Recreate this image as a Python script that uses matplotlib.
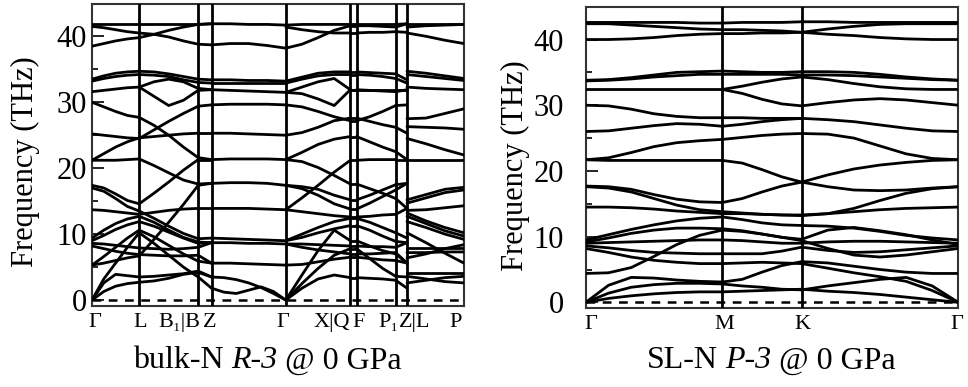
import numpy as np
import matplotlib
matplotlib.use('Agg')
import matplotlib.pyplot as plt
from matplotlib.ticker import MultipleLocator
from matplotlib.offsetbox import TextArea, HPacker, AnchoredOffsetbox

plt.rcParams['font.family'] = ['Liberation Serif', 'DejaVu Serif']

# ---- bulk-N R-3: k-path distances of the high-symmetry points ----
bulk_kpts = [0, 47.3, 106.3, 119.7, 194.0, 258.6, 264.8, 304.0, 315.3, 372.3]
bulk_label_pos = [2.7, 48, 87.5, 117.5, 191, 239.5, 266.5, 297, 323, 364]
bulk_labels = ['Γ', 'L', 'B₁|B', 'Z', 'Γ', 'X|Q', 'F', 'P₁', 'Z|L', 'P']

# frequencies (THz) sampled evenly along each path segment
gamma_L = [
    [41.8, 41.8, 41.8, 41.8, 41.8],
    [41.5, 41.3, 41.0, 40.7, 40.5],
    [38.5, 38.9, 39.3, 39.6, 39.8],
    [33.5, 34.0, 34.4, 34.6, 34.7],
    [33.2, 33.6, 33.9, 34.1, 34.2],
    [31.6, 31.8, 32.0, 32.2, 32.3],
    [30.0, 29.3, 28.6, 28.0, 27.7],
    [25.2, 25.0, 24.8, 24.6, 24.5],
    [21.2, 22.2, 23.2, 24.0, 24.6],
    [21.2, 21.2, 21.2, 21.3, 21.4],
    [17.4, 17.0, 16.1, 15.1, 14.6],
    [17.0, 16.5, 15.4, 14.2, 13.5],
    [13.7, 13.6, 13.4, 13.2, 13.0],
    [9.4, 10.6, 11.6, 12.3, 12.7],
    [9.0, 9.8, 10.7, 11.4, 11.9],
    [8.6, 8.5, 8.3, 8.1, 7.9],
    [8.2, 7.8, 7.4, 7.1, 6.9],
    [5.3, 6.6, 8.0, 9.4, 10.6],
    [5.3, 5.6, 6.0, 6.4, 6.7],
    [0.0, 2.6, 3.9, 3.7, 3.5],
    [0.0, 1.3, 2.1, 2.5, 2.7],
    [0.0, 3.2, 5.6, 8.0, 10.2],
]
L_B1 = [
    [41.8, 41.8, 41.8, 41.8, 41.8],
    [40.5, 40.3, 39.9, 39.3, 38.8],
    [39.8, 40.3, 40.9, 41.4, 41.8],
    [34.7, 34.6, 34.3, 33.9, 33.5],
    [34.2, 34.1, 33.9, 33.4, 33.0],
    [32.3, 33.1, 33.5, 33.1, 32.1],
    [32.3, 30.9, 29.5, 30.3, 31.8],
    [27.7, 26.5, 25.0, 23.2, 21.6],
    [24.5, 25.8, 27.1, 28.3, 29.4],
    [24.6, 24.8, 25.0, 25.2, 25.3],
    [21.4, 20.4, 19.3, 18.2, 17.6],
    [14.6, 16.2, 17.9, 19.7, 21.3],
    [13.0, 13.3, 13.6, 13.8, 13.9],
    [13.5, 12.4, 11.2, 10.1, 9.3],
    [12.7, 11.8, 10.6, 9.5, 8.8],
    [11.9, 11.2, 10.3, 9.4, 8.6],
    [7.9, 7.8, 7.7, 7.8, 8.0],
    [6.9, 6.8, 6.7, 6.7, 6.8],
    [6.7, 9.2, 11.8, 14.5, 17.4],
    [10.6, 9.6, 8.3, 7.0, 5.9],
    [3.5, 3.6, 3.8, 4.0, 4.4],
    [2.7, 2.9, 3.3, 3.9, 4.2],
    [10.2, 8.6, 6.8, 5.0, 3.5],
]
B_Z = [
    [41.8, 41.9], [38.8, 38.7], [41.8, 41.9], [33.5, 33.4], [33.0, 32.9],
    [32.1, 31.9], [31.8, 31.9], [21.6, 21.3], [29.4, 29.6], [25.3, 25.3],
    [17.6, 17.7], [21.3, 21.3], [13.9, 13.9], [9.3, 9.4], [8.8, 8.7],
    [8.6, 8.7], [8.0, 8.7], [6.8, 5.6], [17.4, 17.7], [5.9, 5.6],
    [4.4, 3.5], [4.2, 3.5], [3.5, 1.8],
]
Z_gamma = [
    [41.9, 41.9, 41.8, 41.8, 41.7],
    [38.7, 38.9, 38.9, 38.6, 38.2],
    [33.4, 33.4, 33.3, 33.3, 33.2],
    [32.9, 32.9, 32.9, 32.9, 32.9],
    [31.9, 31.8, 31.7, 31.6, 31.5],
    [29.6, 29.7, 29.7, 29.7, 29.6],
    [25.3, 25.3, 25.2, 25.1, 25.0],
    [21.3, 21.4, 21.4, 21.4, 21.3],
    [17.7, 17.8, 17.8, 17.7, 17.4],
    [13.9, 13.9, 13.9, 13.8, 13.7],
    [9.4, 9.3, 9.2, 9.1, 9.0],
    [8.7, 8.7, 8.6, 8.6, 8.5],
    [5.6, 5.6, 5.5, 5.4, 5.3],
    [3.5, 3.4, 3.1, 2.6, 1.9, 1.0, 0.0],
    [1.8, 1.2, 1.0, 1.5, 2.0, 1.3, 0.0],
]
gamma_X = [
    [41.7, 41.8, 41.8, 41.8, 41.8],
    [41.4, 41.0, 40.7, 40.5, 40.5],
    [38.2, 38.8, 39.8, 40.9, 41.6],
    [33.2, 33.8, 34.4, 34.6, 34.6],
    [32.9, 33.5, 34.0, 34.2, 34.2],
    [31.5, 32.3, 33.1, 33.6, 31.9],
    [31.5, 31.3, 30.5, 29.5, 31.9],
    [29.6, 29.3, 28.6, 27.8, 27.2],
    [25.0, 25.4, 26.2, 27.2, 27.6],
    [21.3, 22.4, 23.6, 24.4, 24.8],
    [21.3, 21.0, 20.1, 18.9, 17.6],
    [17.4, 17.2, 16.8, 15.9, 15.2],
    [13.7, 15.5, 17.4, 19.4, 21.2],
    [17.4, 16.9, 15.9, 14.6, 13.8],
    [13.7, 13.4, 13.1, 12.8, 12.6],
    [9.0, 10.0, 11.0, 11.9, 12.4],
    [9.0, 9.5, 10.2, 10.8, 11.3],
    [8.5, 8.5, 8.4, 8.3, 8.2],
    [8.5, 8.0, 7.6, 7.3, 7.0],
    [5.3, 5.4, 5.8, 6.2, 6.5],
    [0.0, 3.8, 7.5, 10.6, 9.0],
    [0.0, 2.5, 4.8, 6.8, 7.8],
    [0.0, 1.8, 3.2, 3.8, 3.4],
]
X_F = [[row[-1], row[-1]] for row in gamma_X]
F_P1 = [
    [41.8, 41.8, 41.8, 41.8],
    [40.5, 40.6, 40.6, 40.7],
    [41.6, 41.6, 41.5, 41.4],
    [34.6, 34.5, 34.4, 34.3],
    [34.2, 34.1, 33.9, 33.6],
    [31.9, 31.9, 31.9, 31.9],
    [31.9, 31.8, 31.7, 31.6],
    [27.2, 27.8, 28.6, 29.5],
    [27.6, 27.1, 26.6, 26.2],
    [24.8, 24.0, 23.2, 22.5],
    [17.6, 16.9, 16.2, 15.4],
    [15.2, 15.9, 16.7, 17.5],
    [21.2, 21.3, 21.3, 21.3],
    [13.8, 14.7, 15.7, 16.7],
    [12.6, 12.7, 12.9, 13.0],
    [12.4, 11.8, 11.0, 10.2],
    [11.3, 10.6, 9.7, 8.9],
    [8.2, 8.1, 8.1, 8.0],
    [7.0, 7.0, 7.1, 7.2],
    [6.5, 6.3, 6.1, 6.0],
    [9.0, 8.2, 7.5, 7.0],
    [7.8, 6.3, 4.8, 3.6],
    [3.4, 3.3, 3.2, 3.0],
]
P1_Z = [
    [41.8, 41.9], [40.7, 40.6], [41.4, 41.9], [34.3, 33.4], [33.6, 32.9],
    [31.9, 31.9], [31.6, 31.9], [29.5, 29.6], [26.2, 25.3], [22.5, 21.3],
    [15.4, 13.9], [17.5, 17.7], [21.3, 21.3], [16.7, 17.7], [13.0, 13.9],
    [10.2, 9.4], [8.9, 8.7], [8.0, 8.7], [7.2, 5.6], [6.0, 5.6],
    [7.0, 5.6], [3.6, 3.5], [3.0, 1.8],
]
L_P = [
    [41.8, 41.8, 41.8, 41.8],
    [40.5, 40.0, 39.4, 38.9],
    [41.4, 41.6, 41.7, 41.8],
    [34.7, 34.4, 34.0, 33.6],
    [34.2, 33.9, 33.6, 33.3],
    [32.3, 32.1, 32.0, 31.9],
    [27.5, 27.6, 28.3, 29.0],
    [26.3, 26.2, 26.1, 25.9],
    [24.5, 23.7, 22.8, 22.0],
    [21.3, 21.3, 21.3, 21.3],
    [15.2, 16.0, 16.8, 17.1],
    [14.7, 15.5, 16.3, 16.7],
    [13.6, 13.7, 14.0, 14.3],
    [13.2, 12.0, 11.0, 10.2],
    [12.7, 11.6, 10.5, 9.7],
    [11.9, 11.0, 10.0, 9.2],
    [10.2, 8.7, 7.1, 5.6],
    [7.9, 7.9, 7.9, 7.9],
    [7.2, 7.2, 7.3, 7.3],
    [6.4, 7.0, 7.8, 8.4],
    [4.1, 4.1, 4.1, 4.1],
    [3.6, 3.2, 2.8, 2.6],
    [2.6, 3.0, 3.4, 3.6],
]
bulk_segments = [gamma_L, L_B1, B_Z, Z_gamma, gamma_X, X_F, F_P1, P1_Z, L_P]

# ---- SL-N P-3 ----
sl_kpts = [0, 136.6, 216.0, 372.6]
sl_label_pos = [5, 138.3, 216.3, 371.3]
sl_labels = ['Γ', 'M', 'K', 'Γ']

sl_gamma_M = [
    [42.6, 42.6, 42.6, 42.6, 42.6, 42.5, 42.5],
    [42.4, 42.4, 42.2, 42.0, 41.8, 41.6, 41.5],
    [40.0, 40.0, 40.1, 40.3, 40.6, 40.8, 40.9],
    [33.8, 33.9, 34.2, 34.6, 35.0, 35.1, 35.2],
    [33.7, 33.8, 34.0, 34.3, 34.5, 34.7, 34.7],
    [32.4, 32.4, 32.4, 32.4, 32.4, 32.4, 32.4],
    [30.0, 29.9, 29.4, 28.7, 28.3, 28.1, 28.1],
    [26.0, 26.1, 26.5, 26.9, 27.2, 27.1, 26.8],
    [21.7, 22.0, 22.8, 23.7, 24.3, 24.6, 24.8],
    [21.7, 21.6, 21.6, 21.6, 21.6, 21.6, 21.6],
    [17.7, 17.6, 17.2, 16.4, 15.7, 15.3, 15.2],
    [17.6, 17.4, 16.8, 15.8, 14.8, 14.1, 13.8],
    [14.5, 14.5, 14.4, 14.2, 13.9, 13.7, 13.5],
    [9.5, 10.3, 11.1, 11.8, 12.4, 12.8, 13.0],
    [9.2, 9.8, 10.5, 11.0, 11.3, 11.3, 11.2],
    [9.0, 9.1, 9.2, 9.3, 9.4, 9.5, 9.5],
    [8.6, 8.3, 7.9, 7.6, 7.5, 7.4, 7.4],
    [8.2, 7.6, 6.9, 6.4, 6.1, 5.9, 5.9],
    [4.4, 4.5, 5.3, 7.0, 8.8, 10.2, 11.0],
    [0.0, 2.6, 3.8, 3.7, 3.4, 3.2, 3.1],
    [0.0, 1.4, 2.3, 2.7, 2.9, 2.9, 2.8],
    [0.0, 0.6, 1.0, 1.3, 1.5, 1.6, 1.6],
]
sl_M_K = [
    [42.5, 42.6, 42.6, 42.6, 42.7],
    [41.5, 41.5, 41.4, 41.3, 41.1],
    [40.9, 40.9, 41.0, 41.0, 41.1],
    [35.2, 35.1, 35.0, 35.0, 35.1],
    [34.7, 34.7, 34.7, 34.7, 34.6],
    [32.4, 32.9, 33.5, 34.0, 34.3],
    [32.4, 31.8, 30.9, 30.2, 29.9],
    [28.1, 28.1, 28.0, 28.0, 28.0],
    [26.8, 27.1, 27.5, 27.8, 28.0],
    [24.8, 25.1, 25.4, 25.6, 25.7],
    [21.6, 21.2, 20.2, 19.1, 18.3],
    [15.2, 15.8, 16.8, 17.7, 18.3],
    [13.8, 13.6, 13.4, 13.3, 13.2],
    [13.5, 13.5, 13.4, 13.3, 13.3],
    [13.0, 12.6, 12.1, 11.8, 11.7],
    [11.2, 10.9, 10.4, 9.9, 9.6],
    [11.0, 10.8, 10.4, 9.9, 9.4],
    [9.5, 9.4, 9.2, 9.0, 9.0],
    [7.4, 7.4, 7.4, 7.8, 8.4],
    [5.9, 6.0, 6.1, 6.0, 5.9],
    [3.1, 3.5, 4.6, 5.6, 6.2],
    [2.8, 2.5, 2.3, 2.0, 1.9],
    [1.6, 1.7, 1.8, 1.9, 2.0],
]
sl_K_gamma = [
    [42.7, 42.7, 42.6, 42.6, 42.6, 42.6, 42.6],
    [41.1, 41.6, 42.0, 42.3, 42.4, 42.4, 42.4],
    [41.1, 40.8, 40.6, 40.3, 40.1, 40.0, 40.0],
    [35.1, 35.1, 35.0, 34.7, 34.3, 34.0, 33.8],
    [34.6, 34.6, 34.5, 34.3, 34.1, 33.9, 33.8],
    [34.3, 33.9, 33.3, 32.8, 32.5, 32.4, 32.4],
    [29.9, 30.4, 30.8, 31.0, 30.8, 30.4, 30.0],
    [28.0, 27.8, 27.5, 27.0, 26.5, 26.1, 26.0],
    [25.7, 25.6, 25.0, 23.8, 22.6, 21.9, 21.7],
    [18.3, 19.4, 20.3, 20.9, 21.3, 21.6, 21.7],
    [18.3, 17.6, 17.1, 17.0, 17.1, 17.4, 17.6],
    [13.2, 13.5, 14.3, 15.5, 16.6, 17.3, 17.6],
    [13.3, 13.5, 13.8, 14.1, 14.3, 14.4, 14.5],
    [11.7, 11.6, 11.3, 10.8, 10.2, 9.8, 9.5],
    [9.6, 11.0, 11.4, 10.9, 10.3, 9.5, 8.8],
    [9.0, 9.2, 9.3, 9.3, 9.2, 9.1, 9.0],
    [9.4, 8.2, 7.2, 6.9, 7.2, 7.7, 8.2],
    [8.4, 7.9, 7.6, 7.7, 8.0, 8.3, 8.6],
    [6.2, 6.0, 5.5, 5.0, 4.6, 4.4, 4.4],
    [5.9, 5.2, 4.5, 3.9, 3.2, 1.8, 0.0],
    [1.9, 2.5, 3.0, 3.5, 3.8, 2.5, 0.0],
    [2.0, 1.7, 1.5, 1.2, 0.8, 0.4, 0.0],
]
sl_segments = [sl_gamma_M, sl_M_K, sl_K_gamma]


def draw_bands(ax, kpts, segments, label_pos, labels, tick_pad):
    for i, seg in enumerate(segments):
        for band in seg:
            x = np.linspace(kpts[i], kpts[i + 1], len(band))
            ax.plot(x, band, color='black', lw=2.0, solid_joinstyle='round',
                    solid_capstyle='round', zorder=3)
    for k in kpts[1:-1]:
        ax.axvline(k, color='black', lw=2.0, zorder=4)
    ax.axhline(0, color='black', lw=1.8, ls=(0, (3.5, 3.0)), zorder=2)
    ax.set_xlim(kpts[0], kpts[-1])
    ax.set_ylim(-0.9, 44.9)
    ax.set_xticks(label_pos, labels, fontsize=16)
    ax.tick_params(axis='x', length=0, pad=5)
    ax.yaxis.set_major_locator(MultipleLocator(10))
    ax.yaxis.set_minor_locator(MultipleLocator(5))
    ax.tick_params(axis='y', which='major', direction='in', length=8.5,
                   width=1.2, labelsize=22, pad=tick_pad)
    ax.tick_params(axis='y', which='minor', direction='in', length=4.5,
                   width=1.2)
    for side in ax.spines.values():
        side.set_linewidth(1.5)
        side.set_color('#333333')


def add_title(fig, x, y, pre, group, post, size=23):
    # plain text, italic space group, plain text, set on one baseline
    parts = [TextArea(pre, textprops=dict(fontsize=size)),
             TextArea(group, textprops=dict(fontsize=size, style='italic')),
             TextArea(post, textprops=dict(fontsize=size))]
    row = HPacker(children=parts, align='baseline', pad=0, sep=5.5)
    box = AnchoredOffsetbox(loc='center', child=row, pad=0, borderpad=0,
                            frameon=False, bbox_to_anchor=(x, y),
                            bbox_transform=fig.transFigure)
    fig.add_artist(box)


fig = plt.figure(figsize=(9.68, 3.87), dpi=100)
ax1 = fig.add_axes([0.095, 0.2093, 0.3843, 0.7804])
ax2 = fig.add_axes([0.6051, 0.2034, 0.3849, 0.7777])

draw_bands(ax1, bulk_kpts, bulk_segments, bulk_label_pos, bulk_labels, 3.5)
draw_bands(ax2, sl_kpts, sl_segments, sl_label_pos, sl_labels, 16)

fig.text(25 / 968, 1 - 162 / 387, 'Frequency (THz)', rotation=90,
         ha='center', va='center', fontsize=22)
fig.text(515 / 968, 1 - 166 / 387, 'Frequency (THz)', rotation=90,
         ha='center', va='center', fontsize=22)
add_title(fig, 267.5 / 968, 1 - 361 / 387, 'bulk-N', 'R-3', '@ 0 GPa')
add_title(fig, 771 / 968, 1 - 361 / 387, 'SL-N', 'P-3', '@ 0 GPa')

fig.savefig('out.png', dpi=100)
